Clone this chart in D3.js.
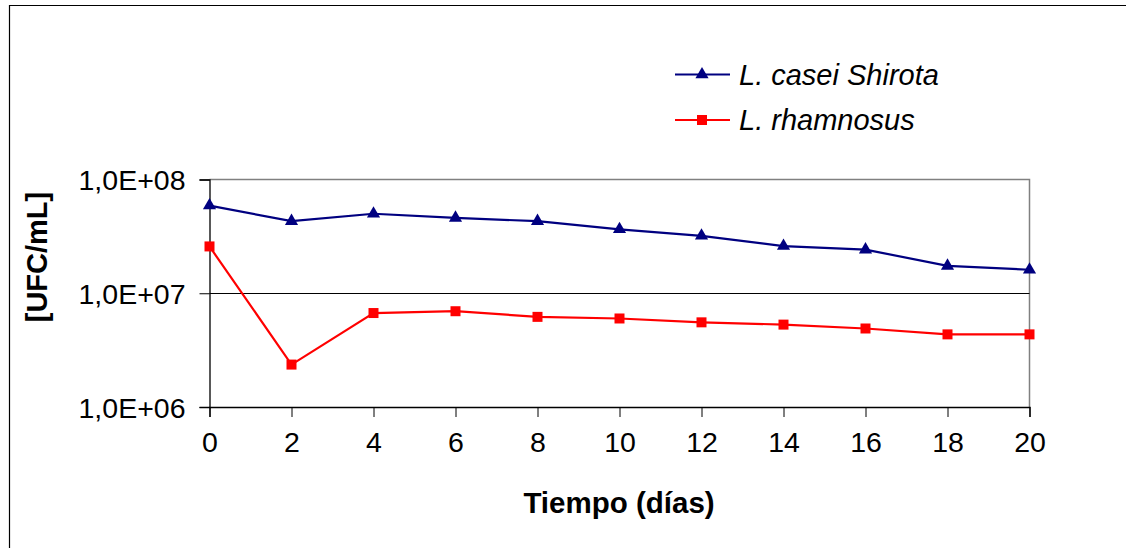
<!DOCTYPE html>
<html>
<head>
<meta charset="utf-8">
<script src="https://cdn.jsdelivr.net/npm/d3@7"></script>
<style>
  html, body { margin: 0; background: #fff; overflow: hidden; }
  svg { display: block; overflow: hidden; }
  text { font-family: "Liberation Sans", Arial, sans-serif; fill: #000; }
</style>
</head>
<body>
<div id="chart"></div>
<script>
// data
const days = [0, 2, 4, 6, 8, 10, 12, 14, 16, 18, 20];
const caseiShirota = [5.9e7, 4.3e7, 5.0e7, 4.6e7, 4.3e7, 3.65e7, 3.2e7, 2.6e7, 2.42e7, 1.74e7, 1.61e7];
const rhamnosus = [2.58e7, 2.36e6, 6.7e6, 6.95e6, 6.2e6, 6.0e6, 5.55e6, 5.3e6, 4.9e6, 4.35e6, 4.35e6];
const xTicks = [0, 2, 4, 6, 8, 10, 12, 14, 16, 18, 20];
const yTicks = [1e6, 1e7, 1e8];
const seriesNames = ['L. casei Shirota', 'L. rhamnosus'];

var drawChart = function() {
	'use strict';
	const W = 1126, H = 548;
	const plot = { left: 209.5, right: 1029.5, top: 179.5, bottom: 407 };
	const navy = '#000080';
	const red = '#FF0000';

	const svg = d3.select('#chart').append('svg')
		.attr('width', W)
		.attr('height', H);

	// outer chart border (right and bottom edges fall outside the picture)
	svg.append('path')
		.attr('d', 'M9.5,' + H + 'V5.5H' + W)
		.attr('fill', 'none').attr('stroke', '#000').attr('stroke-width', 1.2);

	const x = d3.scaleLinear().domain([0, 20]).range([plot.left, plot.right]);
	const y = d3.scaleLog().domain([1e6, 1e8]).range([plot.bottom, plot.top]);

	// plot area frame (top and right grey)
	svg.append('path')
		.attr('d', 'M' + plot.left + ',' + plot.top + 'H' + plot.right + 'V' + plot.bottom)
		.attr('fill', 'none').attr('stroke', '#808080').attr('stroke-width', 1.5);

	// gridline at 1e7
	svg.append('line')
		.attr('x1', plot.left).attr('x2', plot.right)
		.attr('y1', Math.round(y(1e7)) + 0.5).attr('y2', Math.round(y(1e7)) + 0.5)
		.attr('stroke', '#000').attr('stroke-width', 1.2);

	// y axis
	const yAxis = d3.axisLeft(y)
		.tickValues(yTicks)
		.tickSize(10)
		.tickPadding(14)
		.tickFormat(d => '1,0E+' + String(Math.round(Math.log10(d))).padStart(2, '0'));
	const gy = svg.append('g')
		.attr('transform', 'translate(' + plot.left + ',0)')
		.call(yAxis);
	gy.select('.domain').attr('stroke', '#000').attr('stroke-width', 1.3);
	gy.selectAll('.tick line').attr('stroke', '#000');
	gy.selectAll('.tick text').style('font-size', '28.5px').attr('dy', '0.36em');

	// x axis
	const xAxis = d3.axisBottom(x)
		.tickValues(xTicks)
		.tickSize(10)
		.tickPadding(14);
	const gx = svg.append('g')
		.attr('transform', 'translate(0,' + plot.bottom + ')')
		.call(xAxis);
	gx.select('.domain').attr('stroke', '#000').attr('stroke-width', 1.3);
	gx.selectAll('.tick line').attr('stroke', '#000');
	gx.selectAll('.tick text').style('font-size', '28.5px').attr('dy', '0.72em');

	// axis titles
	svg.append('text')
		.text('Tiempo (días)')
		.attr('x', 619).attr('y', 513)
		.attr('text-anchor', 'middle')
		.style('font-size', '29.5px').style('font-weight', 'bold');
	svg.append('text')
		.text('[UFC/mL]')
		.attr('transform', 'translate(47,257) rotate(-90)')
		.attr('text-anchor', 'middle')
		.style('font-size', '29px').style('font-weight', 'bold');

	const line = d3.line().x(d => x(d[0])).y(d => y(d[1]));
	const tri = d3.symbol().type(d3.symbolTriangle).size(75);
	const sq = d3.symbol().type(d3.symbolSquare).size(100);

	function drawSeries(values, color, symbol) {
		const pts = days.map((d, i) => [d, values[i]]);
		svg.append('path')
			.datum(pts)
			.attr('d', line)
			.attr('fill', 'none').attr('stroke', color).attr('stroke-width', 2.2);
		svg.append('g').selectAll('path')
			.data(pts)
			.join('path')
			.attr('d', symbol)
			.attr('transform', d => 'translate(' + x(d[0]) + ',' + y(d[1]) + ')')
			.attr('fill', color);
	}

	drawSeries(caseiShirota, navy, tri);
	drawSeries(rhamnosus, red, sq);

	// legend
	const legend = [
		{ name: seriesNames[0], color: navy, symbol: tri, y: 74.5 },
		{ name: seriesNames[1], color: red, symbol: sq, y: 120 }
	];
	legend.forEach(function(l) {
		svg.append('line')
			.attr('x1', 675).attr('x2', 730)
			.attr('y1', l.y).attr('y2', l.y)
			.attr('stroke', l.color).attr('stroke-width', 2);
		svg.append('path')
			.attr('d', l.symbol)
			.attr('transform', 'translate(702,' + l.y + ')')
			.attr('fill', l.color);
		svg.append('text')
			.text(l.name)
			.attr('x', 739).attr('y', l.y + 10)
			.style('font-size', '29px').style('font-style', 'italic');
	});
};

drawChart();
</script>
</body>
</html>
